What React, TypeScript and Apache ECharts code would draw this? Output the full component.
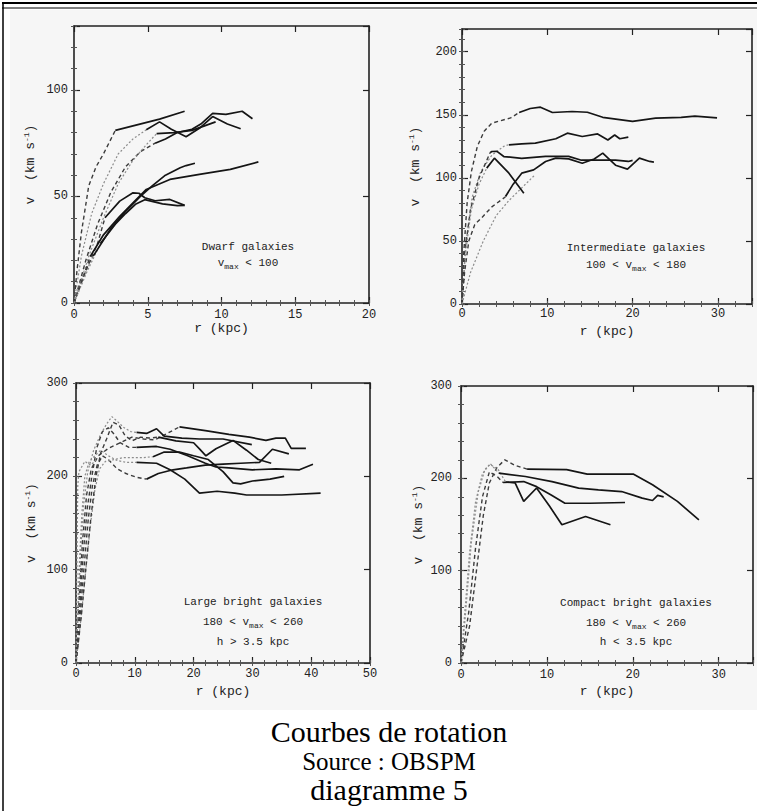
import React, { useEffect, useRef } from 'react';
import * as echarts from 'echarts';

type Pt = [number, number];

// ---------- Panel 1 : Dwarf galaxies (r kpc, v km/s) ----------
const dwarfInner: Pt[][] = [
  [[0, 0], [0.2, 15], [0.5, 33], [1, 55], [1.5, 64], [2, 70], [2.8, 81]],
  [[0, 0], [0.5, 22], [1.2, 42], [2, 56], [3, 70], [4, 77], [4.9, 81.3]],
  [[0, 0], [0.8, 20], [1.6, 37], [2.5, 52], [3.5, 64], [4.5, 71], [5.5, 75]],
  [[0, 0], [1, 22], [2, 40], [3, 56], [4, 67], [5, 75], [5.6, 79.5]],
  [[0, 0], [0.5, 10], [1.1, 21.8]],
  [[0, 0], [0.6, 12], [1.3, 22]],
  [[0, 0], [0.8, 15], [1.6, 28], [2.1, 40]],
  [[0, 0], [0.9, 15], [1.8, 28]],
];
const dwarfOuter: Pt[][] = [
  [[2.8, 81], [4.2, 83.5], [5.8, 86.3], [7.5, 90]],
  [[4.9, 81.3], [5.8, 85], [6.6, 81.5], [7.6, 78], [8.5, 82], [9.4, 87.5], [10.4, 84], [11.3, 81.8]],
  [[5.5, 75], [6.2, 77], [7, 80], [8, 81.5], [8.6, 84], [9.4, 89], [10.3, 88.5], [11.4, 90], [12.1, 86.5]],
  [[5.6, 79.5], [6.8, 80], [8, 81], [8.8, 83], [9.6, 85]],
  [[1.1, 21.8], [2, 32], [3.1, 40.7], [4, 47], [4.9, 53.3], [6.5, 58], [8.5, 60.4], [10.6, 62.7], [12.5, 66.2]],
  [[1.3, 22], [2.5, 35], [3.5, 43], [4.5, 50], [5.3, 55], [6.2, 60], [7.2, 63.5], [7.6, 64.5], [8.2, 65.6]],
  [[2.1, 40], [3.1, 47.8], [4, 51.7], [4.4, 51.5], [4.8, 49.4], [5.5, 48], [6.5, 48.6], [7.5, 45.8]],
  [[1.8, 28], [2.8, 37], [3.5, 42], [4.2, 46.5], [4.8, 48.5], [6, 46.5], [7, 45.7], [7.5, 45.8]],
];

// ---------- Panel 2 : Intermediate galaxies ----------
const interInner: Pt[][] = [
  [[0, 0], [0.2, 40], [0.6, 80], [1.1, 105], [1.8, 125], [2.6, 137], [3.5, 143.4], [5.7, 147.5], [6.7, 151.8]],
  [[0, 0], [0.4, 45], [1.2, 85], [2.2, 105], [3.5, 118], [4.9, 125], [5.5, 126.4]],
  [[0, 0], [0.3, 40], [1, 75], [2, 100], [3.3, 120]],
  [[0, 0], [0.4, 40], [1.1, 75], [2, 95], [2.9, 107.7]],
  [[0, 0], [0.3, 25], [0.8, 50], [1.5, 63], [2.4, 69], [3.5, 77], [5.1, 85]],
  [[0, 0], [1, 25], [2.5, 50], [4, 70], [5.5, 82], [7, 92], [8.5, 102]],
];
const interOuter: Pt[][] = [
  [[6.7, 151.8], [8, 155], [9.2, 156], [10.6, 151.8], [12.9, 152.6], [14.7, 152], [16.5, 148], [20, 144.7], [22.7, 147.3], [25.7, 148], [27.3, 149], [29.9, 147.5]],
  [[5.5, 126.2], [7, 127], [8.6, 127.5], [11, 131], [12.35, 135.4], [14.1, 132.8], [15.9, 134.8], [17.1, 130], [17.9, 134], [18.5, 131], [19.5, 132.3]],
  [[3.3, 120], [3.5, 120.9], [4.1, 121], [4.9, 116.9], [7, 115.5], [9.8, 117], [12.5, 117], [14, 114], [16, 114], [18, 114], [19.5, 113], [20, 113.8]],
  [[2.9, 107.7], [3.8, 115.6], [5.5, 103.7], [7.25, 87.8]],
  [[5.1, 85.2], [6, 95], [7, 103.7], [8.4, 106.3], [9.8, 113], [11, 115.6], [12.5, 115], [14.1, 111.6], [15.5, 115], [16.5, 119.6], [18, 110], [19.4, 106.9], [20.8, 115.6], [22, 113], [22.5, 112.5]],
  [],
];

// ---------- Panel 3 : Large bright galaxies ----------
const largeInner: Pt[][] = [
  [[0, 0], [0.5, 65], [1.1, 130], [1.8, 180], [2.6, 208], [3.8, 222], [5.5, 230], [7.5, 236], [9.5, 242], [11.5, 240], [13.4, 239], [15.5, 246], [17.6, 253]],
  [[0, 0], [0.4, 60], [0.8, 120], [1.3, 170], [2, 205], [3, 228], [4.2, 245], [5.2, 256], [6.1, 264], [7, 259], [8.2, 252], [9.3, 248], [10.3, 247]],
  [[0, 0], [0.6, 55], [1.2, 115], [1.9, 165], [2.7, 200], [3.5, 230], [4.5, 248], [5.5, 252], [6.5, 245], [7.5, 236], [9, 231], [10.3, 231]],
  [[0, 0], [0.3, 50], [0.6, 110], [1, 160], [1.5, 200], [2.2, 215], [3.2, 222], [4.2, 228], [5.5, 222], [7, 217], [8.5, 215], [10.3, 215]],
  [[0, 0], [0.7, 50], [1.4, 105], [2.1, 155], [2.8, 190], [3.6, 212], [4.5, 222], [5.5, 218], [7, 208], [8.5, 203], [10.3, 199], [12, 197]],
  [[0, 0], [0.8, 45], [1.6, 95], [2.4, 145], [3.2, 185], [4, 208], [5, 216], [6.5, 218], [8, 220], [9.5, 220], [11.3, 220], [13.1, 221]],
  [[0, 0], [0.9, 50], [1.8, 110], [2.6, 160], [3.4, 200], [4.2, 225], [5.2, 240], [6.3, 258], [7.3, 255], [8.3, 244], [9.5, 238], [11, 242], [12.5, 241], [14, 242]],
  [[0, 0], [0.1, 60], [0.2, 130], [0.3, 190], [0.5, 205], [1.5, 216], [2.5, 212], [3.5, 218]],
];
const largeOuter: Pt[][] = [
  [[17.6, 253], [22, 249], [26, 245], [29.5, 242], [32.3, 238.5], [34, 241], [35.6, 241], [36.6, 230], [39.1, 230]],
  [[10.3, 247], [12, 246], [13.7, 251], [15, 243], [18, 241], [21, 240], [25, 240], [29.9, 234]],
  [[10.3, 231], [13.7, 232], [16, 229], [19, 222], [22, 214], [23.8, 210], [26, 209], [30, 207], [34, 208], [38, 207], [40.3, 213]],
  [[10.3, 215], [13.7, 214], [16, 207], [18.5, 197], [21, 182], [24, 184], [27, 182], [29, 180], [35, 180], [41.6, 182]],
  [[12, 197], [14, 203], [16.5, 207], [18.8, 209], [22, 212], [25, 213], [28, 214], [31.2, 215], [33.4, 229], [36.2, 224]],
  [[13.1, 221], [15, 226], [17.6, 226], [20, 222], [22.5, 218], [25, 205], [26.7, 193], [28, 192], [30, 195], [33, 197], [35.4, 200]],
  [[14, 242], [17, 238], [20, 236], [21, 229.5], [22.1, 222], [23.8, 229.5], [26.7, 238.5], [29, 228], [31, 218], [33.2, 214]],
  [],
];

// ---------- Panel 4 : Compact bright galaxies ----------
const compactInner: Pt[][] = [
  [[0, 0], [1, 40], [1.8, 100], [2.6, 160], [3.3, 195], [4.2, 212], [5.1, 220], [6.3, 214], [7.7, 210]],
  [[0, 0], [0.4, 50], [1, 120], [1.7, 175], [2.5, 205], [3.4, 216], [4.4, 205.6]],
  [[0, 0], [0.9, 55], [1.7, 125], [2.5, 180], [3.3, 207], [4.2, 202], [4.9, 195.5]],
  [[0, 0], [0.5, 50], [1.2, 130], [2, 185], [2.8, 210], [3.4, 215], [4.3, 210], [5.2, 196]],
];
const compactOuter: Pt[][] = [
  [[7.7, 210], [12.3, 209.5], [14.7, 204.5], [20.1, 204.5], [22.3, 193], [25.2, 175], [27.7, 155]],
  [[4.4, 205.6], [7.5, 202], [10.6, 196.5], [13.7, 189.4], [16, 187.6], [18.7, 185.7], [21.1, 178.6], [22.3, 176], [22.9, 181.5], [23.6, 180]],
  [[4.9, 195.5], [7.3, 196.5], [8.8, 191], [10.5, 182], [12.1, 173], [15, 173], [19.1, 173.8]],
  [[5.2, 196], [6.3, 195], [7.3, 175], [8.8, 189.5], [10.3, 170], [11.75, 149.7], [14.5, 158.7], [17.4, 149.7]],
];

// ---------- Axis scales ----------
const xMax = [20, 34, 50, 34];
const xMajor = [5, 10, 10, 10];
const xMinor = [1, 2, 2, 2];
const yMax = [130, 218, 300, 300];
const yMajor = [50, 50, 100, 100];
const yMinor = [10, 10, 20, 20];

const panelTitles = ['Dwarf galaxies', 'Intermediate galaxies', 'Large bright galaxies', 'Compact bright galaxies'];
const panelRanges = [
  ['', 'max', ' < 100'],
  ['100 < ', 'max', ' < 180'],
  ['180 < ', 'max', ' < 260'],
  ['180 < ', 'max', ' < 260'],
];
const panelExtra = ['', '', 'h > 3.5 kpc', 'h < 3.5 kpc'];
const captionLines = ['Courbes de rotation', 'Source : OBSPM', 'diagramme 5'];

// ---------- Layout ----------
const grids = [
  { left: 74, top: 26, width: 295, height: 277 },
  { left: 462, top: 29, width: 290, height: 275 },
  { left: 76, top: 383, width: 294, height: 280 },
  { left: 461, top: 386, width: 292, height: 277 },
];
const xLabelMargin = [6, 4, 5, 6];
const xNameGap = [19, 21, 22, 22];
const yLabelMargin = [6, 5, 8, 9];
const yNameGap = [36, 39, 37, 33];
const textPos = [
  [248, 247, 263, 0],
  [636, 248, 265, 0],
  [253, 602, 622, 642],
  [636, 603, 623, 642],
];

const MONO = "'Liberation Mono', 'DejaVu Sans Mono', monospace";
const SERIF = "'Liberation Serif', 'Times New Roman', serif";
const INK = '#222222';

function buildOption() {
  const xAxis: any[] = [];
  const yAxis: any[] = [];
  const series: any[] = [];
  const inners = [dwarfInner, interInner, largeInner, compactInner];
  const outers = [dwarfOuter, interOuter, largeOuter, compactOuter];

  for (let g = 0; g < 4; g++) {
    const fmt = (m: number) => (v: number) => (Math.abs(v % m) < 1e-9 ? String(v) : '');
    const base = { type: 'value', gridIndex: g, min: 0, splitLine: { show: false } };
    const line = { show: true, onZero: false, lineStyle: { color: INK, width: 1.6 } };
    const majTick = { show: true, inside: true, length: 6, lineStyle: { color: INK, width: 1.2 } };
    const minTick = { show: true, inside: true, length: 3, lineStyle: { color: '#555', width: 1 } };
    xAxis.push({
      ...base, max: xMax[g], interval: xMajor[g], position: 'bottom',
      axisLine: line, axisTick: majTick,
      axisLabel: { margin: xLabelMargin[g], formatter: fmt(xMajor[g]), fontFamily: MONO, fontSize: 12, color: INK },
      name: 'r (kpc)', nameLocation: 'middle', nameGap: xNameGap[g],
      nameTextStyle: { fontFamily: MONO, fontSize: 13, color: INK },
    });
    xAxis.push({ ...base, max: xMax[g], interval: xMinor[g], position: 'bottom', axisLine: { show: false }, axisTick: minTick, axisLabel: { show: false } });
    xAxis.push({ ...base, max: xMax[g], interval: xMajor[g], position: 'top', axisLine: line, axisTick: majTick, axisLabel: { show: false } });
    xAxis.push({ ...base, max: xMax[g], interval: xMinor[g], position: 'top', axisLine: { show: false }, axisTick: minTick, axisLabel: { show: false } });
    yAxis.push({
      ...base, max: yMax[g], interval: yMajor[g], position: 'left',
      axisLine: line, axisTick: majTick,
      axisLabel: { margin: yLabelMargin[g], formatter: fmt(yMajor[g]), fontFamily: MONO, fontSize: 12, color: INK },
      name: 'v  (km s{sup|-1})', nameLocation: 'middle', nameGap: yNameGap[g],
      nameTextStyle: {
        fontFamily: MONO, fontSize: 13, color: INK, lineHeight: 16,
        rich: { sup: { fontFamily: MONO, fontSize: 8, color: INK, lineHeight: 8, verticalAlign: 'top' } },
      },
    });
    yAxis.push({ ...base, max: yMax[g], interval: yMinor[g], position: 'left', axisLine: { show: false }, axisTick: minTick, axisLabel: { show: false } });
    yAxis.push({ ...base, max: yMax[g], interval: yMajor[g], position: 'right', axisLine: line, axisTick: majTick, axisLabel: { show: false } });
    yAxis.push({ ...base, max: yMax[g], interval: yMinor[g], position: 'right', axisLine: { show: false }, axisTick: minTick, axisLabel: { show: false } });

    inners[g].forEach((pts, j) => {
      if (!pts.length) return;
      const light = j % 2 === 1;
      series.push({
        type: 'line', xAxisIndex: g * 4, yAxisIndex: g * 4, data: pts,
        showSymbol: false, symbol: 'none', silent: true,
        lineStyle: { color: light ? '#8c8c8c' : '#3c3c3c', width: light ? 1.2 : 1.4, type: light ? [2, 2] : [4, 3] },
      });
    });
    outers[g].forEach((pts) => {
      if (!pts.length) return;
      series.push({
        type: 'line', xAxisIndex: g * 4, yAxisIndex: g * 4, data: pts,
        showSymbol: false, symbol: 'none', silent: true,
        lineStyle: { color: '#151515', width: 1.7, type: 'solid' },
      });
    });
  }

  const graphic: any[] = [
    { type: 'rect', z: -10, shape: { x: 10, y: 10, width: 747, height: 700 }, style: { fill: '#f6f6f6' } },
    { type: 'line', shape: { x1: 2, y1: 3, x2: 757, y2: 3 }, style: { stroke: '#000', lineWidth: 2 } },
    { type: 'line', shape: { x1: 2, y1: 8, x2: 757, y2: 8 }, style: { stroke: '#000', lineWidth: 1 } },
    { type: 'line', shape: { x1: 3, y1: 2, x2: 3, y2: 811 }, style: { stroke: '#000', lineWidth: 1.5 } },
  ];
  const annStyle = { fontFamily: MONO, fontSize: 11, fill: INK };
  for (let g = 0; g < 4; g++) {
    const [cx, y1, y2, y3] = textPos[g];
    graphic.push({ type: 'text', x: cx, y: y1, style: { ...annStyle, text: panelTitles[g], align: 'center', verticalAlign: 'middle' } });
    const [pre, sub, post] = panelRanges[g];
    graphic.push({
      type: 'text', x: cx, y: y2,
      style: {
        text: `{a|${pre}v}{s|${sub}}{a|${post}}`, align: 'center', verticalAlign: 'middle',
        rich: {
          a: { fontFamily: MONO, fontSize: 11, fill: INK, color: INK, lineHeight: 14, verticalAlign: 'middle' },
          s: { fontFamily: MONO, fontSize: 8, fill: INK, color: INK, lineHeight: 8, verticalAlign: 'bottom' },
        },
      },
    });
    if (panelExtra[g]) {
      graphic.push({ type: 'text', x: cx, y: y3, style: { ...annStyle, text: panelExtra[g], align: 'center', verticalAlign: 'middle' } });
    }
  }
  const capSizes = [30, 25, 30];
  const capY = [731, 761, 789];
  captionLines.forEach((t, i) => {
    graphic.push({ type: 'text', x: 389, y: capY[i], style: { text: t, fontFamily: SERIF, fontSize: capSizes[i], fill: '#000', align: 'center', verticalAlign: 'middle' } });
  });

  return {
    animation: false,
    backgroundColor: '#ffffff',
    grid: grids.map((gr) => ({ ...gr, containLabel: false })),
    xAxis,
    yAxis,
    series,
    graphic,
  };
}

export default function App() {
  const ref = useRef<HTMLDivElement>(null);
  useEffect(() => {
    document.body.style.margin = '0';
    if (!ref.current) return;
    const chart = echarts.init(ref.current, undefined, { renderer: 'svg' });
    chart.setOption(buildOption() as any);
    return () => chart.dispose();
  }, []);
  return <div ref={ref} style={{ width: 757, height: 811 }} />;
}
